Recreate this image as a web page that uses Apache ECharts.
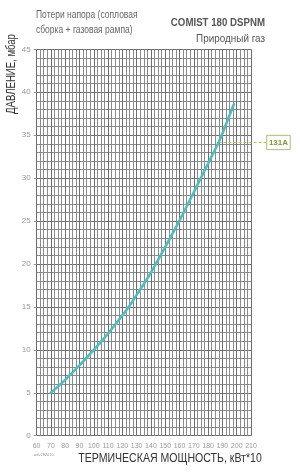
<!DOCTYPE html>
<html><head><meta charset="utf-8">
<script src="https://cdn.jsdelivr.net/npm/echarts@6/dist/echarts.min.js"></script>
<style>html,body{margin:0;padding:0;background:#fff}#c{width:300px;height:475px}</style>
</head><body><div id="c"></div>
<script>
var powerX = [70, 80, 90, 100, 104.4, 110, 120, 125.5, 130, 140, 150, 159.3, 170, 173.8, 180, 187.3, 190, 198];
var pressureY = [5.0, 6.5, 8.2, 10.0, 10.8, 11.9, 14.0, 15.25, 16.4, 19.0, 22.0, 24.85, 28.35, 29.65, 31.7, 34.15, 35.2, 38.6];
var xTicks = [60, 70, 80, 90, 100, 110, 120, 130, 140, 150, 160, 170, 180, 190, 200, 210];
var yTicks = [0, 5, 10, 15, 20, 25, 30, 35, 40, 45];
var markerX = 187.3, markerY = 34.15, markerLabel = '131A';
var titleLines = ['Потери напора (сопловая', 'сборка + газовая рампа)'];
var modelName = 'COMIST 180 DSPNM';
var fuelName = 'Природный газ';
var yName = 'ДАВЛЕНИЕ, мбар';
var xName = 'ТЕРМИЧЕСКАЯ МОЩНОСТЬ, кВт*10';
var codeText = 'adv282010';

var FONT = '"Liberation Sans Narrow", "Liberation Sans", sans-serif';
var chart = echarts.init(document.getElementById('c'), null, {renderer: 'canvas'});
var pts = powerX.map(function (x, i) { return [x, pressureY[i]]; });
chart.setOption({
  animation: false,
  grid: {left: 36.6, right: 49, top: 49.3, bottom: 39.3},
  xAxis: {
    type: 'value', min: xTicks[0], max: xTicks[xTicks.length - 1], interval: 10,
    axisLine: {show: false}, axisTick: {show: false},
    axisLabel: {color: '#999', fontSize: 7, fontFamily: FONT, margin: 7},
    splitLine: {show: true, lineStyle: {color: '#6e6e6e', width: 1}},
    minorTick: {show: false, splitNumber: 4},
    minorSplitLine: {show: true, lineStyle: {color: '#8a8a8a', width: 1}}
  },
  yAxis: {
    type: 'value', min: yTicks[0], max: yTicks[yTicks.length - 1], interval: 5,
    axisLine: {show: false}, axisTick: {show: true, length: 3, lineStyle: {color: '#999'}},
    axisLabel: {color: '#999', fontSize: 8, fontFamily: FONT, margin: 6},
    splitLine: {show: true, lineStyle: {color: '#6e6e6e', width: 1}},
    minorTick: {show: false, splitNumber: 5},
    minorSplitLine: {show: true, lineStyle: {color: '#8a8a8a', width: 1}}
  },
  series: [{
    type: 'line', data: pts, smooth: 0.4, symbol: 'none',
    lineStyle: {color: '#4dbdbf', width: 2.6, cap: 'round'}
  }]
});
var p = chart.convertToPixel({gridIndex: 0}, [markerX, markerY]);
var boxX = 266.7, boxW = 23.5, boxH = 14.3;
chart.setOption({graphic: [
  {type: 'text', x: 36, y: 10, scaleX: 0.85, style: {text: titleLines[0], fill: '#666', font: '10px ' + FONT}},
  {type: 'text', x: 36, y: 25, scaleX: 0.85, style: {text: titleLines[1], fill: '#666', font: '10px ' + FONT}},
  {type: 'text', x: 265, y: 17, scaleX: 0.88, style: {text: modelName, fill: '#555', font: 'bold 11px ' + FONT, textAlign: 'right'}},
  {type: 'text', x: 265, y: 33, scaleX: 0.9, style: {text: fuelName, fill: '#555', font: '11px ' + FONT, textAlign: 'right'}},
  {type: 'text', x: 6, y: 74, rotation: Math.PI / 2, scaleX: 0.8, style: {text: yName, fill: '#333', font: '12px ' + FONT, textAlign: 'center', textVerticalAlign: 'top'}},
  {type: 'text', x: 170, y: 453, scaleX: 0.88, style: {text: xName, fill: '#333', font: '12px ' + FONT, textAlign: 'center'}},
  {type: 'text', x: 34, y: 453, style: {text: codeText, fill: '#999', font: '4px ' + FONT}},
  {type: 'line', shape: {x1: p[0], y1: p[1], x2: boxX, y2: p[1]}, style: {stroke: '#a8bf74', lineWidth: 1, lineDash: [3, 2]}},
  {type: 'rect', shape: {x: boxX, y: p[1] - boxH / 2, width: boxW, height: boxH}, style: {fill: '#fff', stroke: '#a8bf74', lineWidth: 1}},
  {type: 'text', x: boxX + boxW / 2, y: p[1], style: {text: markerLabel, fill: '#7f9a3a', font: 'bold 8px ' + FONT, textAlign: 'center', textVerticalAlign: 'middle'}}
]});
</script></body></html>
